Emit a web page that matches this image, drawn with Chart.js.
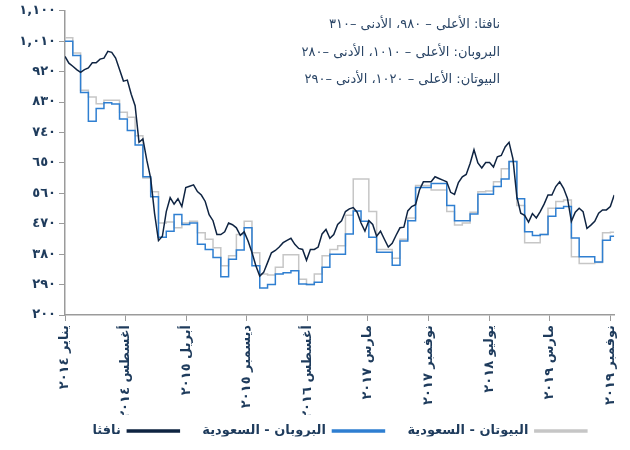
<!DOCTYPE html>
<html lang="ar">
<head>
<meta charset="utf-8">
<script src="https://cdn.jsdelivr.net/npm/chart.js@4/dist/chart.umd.min.js"></script>
<style>
  body { margin: 0; background: #fff; }
  #wrap { width: 630px; height: 450px; }
</style>
</head>
<body>
<div id="wrap"><canvas id="cpChart"></canvas></div>
<script>
// tick labels shown under the x axis (evenly spaced, Jan 2014 .. Nov 2019)
const xLabels = [
    "يناير ٢٠١٤", "أغسطس ٢٠١٤", "أبريل ٢٠١٥", "ديسمبر ٢٠١٥", "أغسطس ٢٠١٦",
    "مارس ٢٠١٧", "نوفمبر ٢٠١٧", "يوليو ٢٠١٨", "مارس ٢٠١٩", "نوفمبر ٢٠١٩"
];
const lastTickMonth = 70;   // Nov 2019, months after Jan 2014
const lastMonth = 70.5;

// naphtha, one value every half month from Jan 2014
const naphtha = [
    965, 945, 936, 926, 918, 926, 931, 946, 946, 957, 960, 980, 977, 960, 926, 892,
    895, 853, 819, 711, 721, 658, 604, 500, 420, 433, 506, 547, 528, 544, 521, 577,
    581, 585, 565, 555, 536, 497, 479, 438, 438, 446, 472, 467, 458, 436, 446, 419,
    385, 346, 315, 326, 355, 384, 391, 401, 414, 421, 427, 409, 397, 394, 362, 394,
    394, 401, 440, 453, 427, 438, 468, 479, 506, 514, 518, 504, 472, 448, 479, 468,
    433, 448, 424, 401, 412, 436, 458, 460, 508, 521, 526, 570, 594, 594, 594, 609,
    604, 599, 594, 563, 557, 592, 609, 616, 648, 689, 650, 635, 651, 651, 638, 668,
    672, 697, 711, 662, 550, 501, 495, 475, 500, 487, 506, 528, 555, 555, 580, 594,
    575, 545, 477, 504, 516, 506, 456, 466, 477, 501, 511, 511, 521, 555
];

// Saudi contract prices, one value per month from Jan 2014
const propane = [
    1010, 968, 858, 773, 811, 828, 824, 780, 746, 703, 609, 550,
    430, 448, 497, 468, 472, 409, 394, 370, 313, 365, 392, 458,
    346, 280, 290, 321, 325, 331, 292, 290, 297, 341, 380, 380,
    440, 508, 477, 430, 386, 386, 347, 419, 479, 577, 577, 589,
    589, 524, 479, 479, 499, 557, 557, 580, 602, 654, 544, 446,
    435, 438, 492, 516, 521, 428, 372, 372, 357, 421, 433
];
const butane = [
    1020, 975, 865, 845, 825, 835, 835, 800, 785, 730, 605, 565,
    472, 475, 458, 472, 477, 443, 424, 399, 346, 375, 438, 477,
    384, 321, 318, 341, 378, 378, 306, 290, 321, 375, 394, 405,
    495, 602, 602, 506, 394, 394, 368, 424, 487, 583, 583, 570,
    570, 506, 466, 472, 504, 565, 567, 594, 633, 654, 524, 414,
    414, 438, 516, 536, 540, 372, 352, 352, 355, 443, 445
];

const notes = [
    "نافثا: الأعلى – ٩٨٠، الأدنى –٣١٠",
    "البروبان: الأعلى – ١٠١٠، الأدنى –٢٨٠",
    "البيوتان: الأعلى – ١٠٢٠، الأدنى –٢٩٠"
];

const navy = "#0f2442";
const blue = "#2f7fd1";
const grey = "#c6c6c6";
const textColor = "#1e3b5c";
const axisColor = "#9b9b9b";

const arDigits = "٠١٢٣٤٥٦٧٨٩";
function toArabic(n) {
    let s = n >= 1000 ? Math.floor(n / 1000) + "," + String(n % 1000).padStart(3, "0") : String(n);
    return s.replace(/\d/g, d => arDigits[d]);
}

const halfMonthPoints = naphtha.map((v, i) => ({ x: i / 2, y: v }));
function monthlySteps(values) {
    const pts = values.map((v, i) => ({ x: i, y: v }));
    pts.push({ x: lastMonth, y: values[values.length - 1] });
    return pts;
}
const tickValues = xLabels.map((_, i) => i * lastTickMonth / (xLabels.length - 1));

const notesPlugin = {
    id: "notes",
    afterInit(chart) {
        // short legend strip, items moved up a bit after layout
        const legend = chart.legend;
        const fit = legend.fit;
        legend.fit = function () {
            fit.call(this);
            this.height = 35;
        };
    },
    afterLayout(chart) {
        chart.legend.top -= 13.5;
        chart.legend.bottom -= 13.5;
    },
    afterDraw(chart) {
        const ctx = chart.ctx;
        ctx.save();
        ctx.font = "13px 'DejaVu Sans'";
        ctx.fillStyle = "#2a4566";
        ctx.direction = "ltr";
        ctx.textAlign = "right";
        ctx.textBaseline = "middle";
        notes.forEach((t, i) => ctx.fillText("\u202B" + t + "\u202C", 500, 25 + i * 27.5));
        ctx.restore();
    }
};

new Chart(document.getElementById("cpChart").getContext("2d"), {
    type: "line",
    data: {
        datasets: [
            {
                label: "نافثا",
                data: halfMonthPoints,
                borderColor: navy,
                backgroundColor: navy,
                borderWidth: 1.5,
            },
            {
                label: "البروبان - السعودية",
                data: monthlySteps(propane),
                borderColor: blue,
                backgroundColor: blue,
                borderWidth: 1.5,
                stepped: true,
            },
            {
                label: "البيوتان - السعودية",
                data: monthlySteps(butane),
                borderColor: grey,
                backgroundColor: grey,
                borderWidth: 1.5,
                stepped: true,
            },
        ],
    },
    options: {
        responsive: true,
        maintainAspectRatio: false,
        animation: false,
        layout: { padding: { left: 5, right: 10, top: 7, bottom: 0 } },
        elements: { point: { radius: 0 }, line: { tension: 0 } },
        plugins: {
            tooltip: { enabled: false },
            legend: {
                position: "bottom",
                fullSize: false,
                rtl: true,
                reverse: true,
                labels: {
                    boxWidth: 52,
                    boxHeight: 2,
                    padding: 23,
                    color: textColor,
                    font: { family: "'DejaVu Sans'", size: 13, weight: "bold" },
                },
            },
        },
        scales: {
            x: {
                type: "linear",
                min: 0,
                max: lastMonth,
                afterBuildTicks: scale => {
                    scale.ticks = tickValues.map(v => ({ value: v }));
                },
                afterFit: scale => { scale.height = 100; },
                ticks: {
                    autoSkip: false,
                    minRotation: 90,
                    maxRotation: 90,
                    padding: 4,
                    color: textColor,
                    font: { family: "'DejaVu Sans'", size: 13, weight: "bold" },
                    callback: (v, i) => xLabels[i],
                },
                grid: { drawOnChartArea: false, tickLength: 6, color: axisColor },
                border: { color: axisColor, width: 1.5 },
            },
            y: {
                min: 200,
                max: 1100,
                afterFit: scale => { scale.width = 60; },
                ticks: {
                    stepSize: 90,
                    padding: 3,
                    color: textColor,
                    font: { family: "'DejaVu Sans'", size: 13, weight: "bold" },
                    callback: v => toArabic(v),
                },
                grid: { drawOnChartArea: false, tickLength: 6, color: axisColor },
                border: { color: axisColor, width: 1.5 },
            },
        },
    },
    plugins: [notesPlugin],
});
</script>
</body>
</html>
